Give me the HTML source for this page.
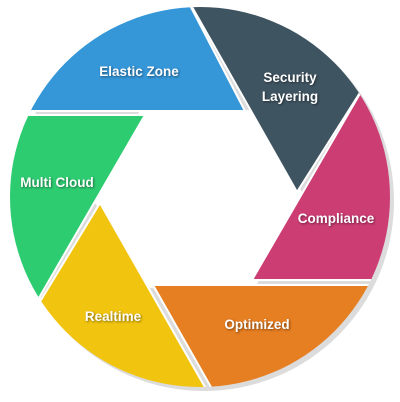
<!DOCTYPE html>
<html><head><style>
html,body{margin:0;padding:0;background:#fff;width:400px;height:402px;overflow:hidden}
text{font-family:"Liberation Sans",sans-serif;font-size:13.5px;font-weight:bold;fill:#fff;text-anchor:middle;filter:drop-shadow(1px 1px 1px rgba(0,0,0,.45))}
</style></head><body>
<svg width="400" height="402" viewBox="0 0 400 402">
<defs><clipPath id="c"><circle cx="200" cy="197" r="190"/></clipPath></defs>
<circle cx="204" cy="201" r="190" fill="#dcdcdc"/>
<polygon points="140,110,250,110,302,192,256,286,150,288,95,203" fill="#fff"/>
<g clip-path="url(#c)" stroke="#fff" stroke-width="2">
<polygon points="-10,-10,182,-10,245,111,-10,111" fill="#3596d8"/>
<polygon points="187,-2,420,-2,297,192" fill="#3f5461"/>
<polygon points="252,280,420,-10,420,280" fill="#cc3d73"/>
<polygon points="153,285,420,285,420,410,224,410" fill="#e67e22"/>
<polygon points="100,203,218,410,-26,410" fill="#f1c40f"/>
<polygon points="-10,115,145,115,-26,410,-10,410" fill="#2ecc71"/>
</g>
<text x="139" y="76">Elastic Zone</text>
<text x="290" y="82">Security</text>
<text x="290" y="101">Layering</text>
<text x="336" y="223">Compliance</text>
<text x="257" y="329">Optimized</text>
<text x="113" y="321">Realtime</text>
<text x="57" y="187">Multi Cloud</text>
</svg>
</body></html>
